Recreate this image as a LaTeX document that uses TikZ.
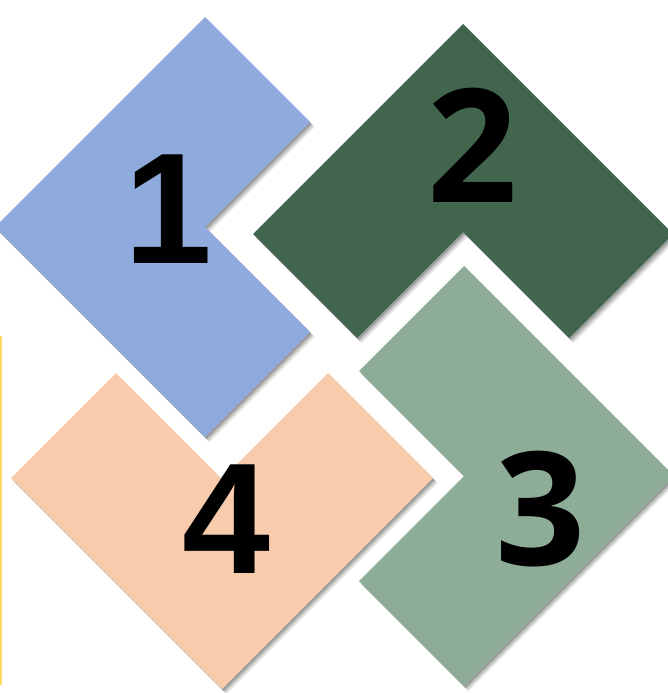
\documentclass[tikz,border=0pt]{standalone}
\usepackage{fontspec}
\newfontfamily\digA{Liberation Sans}
\newfontfamily\digB{Open Sans}
\usetikzlibrary{shadows}
\definecolor{chevblue}{HTML}{8FAADC}
\definecolor{chevpine}{HTML}{42664D}
\definecolor{chevsage}{HTML}{8EAD98}
\definecolor{chevpeach}{HTML}{F8CBAD}
\definecolor{edgegold}{HTML}{FFD966}

\begin{document}
\begin{tikzpicture}[
  x=1pt,y=-1pt,
  chev/.style={drop shadow={shadow xshift=1.5pt,shadow yshift=-2pt,opacity=.2,fill=black},
               drop shadow={shadow xshift=3pt,shadow yshift=-3.5pt,opacity=.15,fill=black},
               drop shadow={shadow xshift=4.5pt,shadow yshift=-5pt,opacity=.1,fill=black}},
  num/.style={anchor=base,inner sep=0pt,font=\fontsize{158}{158}\selectfont\bfseries},
]
\useasboundingbox (0,0) rectangle (667,693);

% ===== thin gold rule at the left edge =====
\draw[edgegold,line width=2pt] (1,336) -- (1,685);

% ===== chevron 1 (points left) =====
\fill[chev,chevblue] (205,17) -- (310,122) -- (205,227) -- (310,332) -- (205,437) -- (-5,227) -- cycle;
% ===== chevron 2 (points up) =====
\fill[chev,chevpine] (463,24) -- (673,234) -- (569,338) -- (463,232) -- (357,338) -- (253,234) -- cycle;
% ===== chevron 3 (points right) =====
\fill[chev,chevsage] (464,266) -- (674,476) -- (464,686) -- (359,581) -- (464,476) -- (359,371) -- cycle;
% ===== chevron 4 (points down) =====
\fill[chev,chevpeach] (116,373) -- (222,479) -- (328,373) -- (433,478) -- (222,689) -- (11,478) -- cycle;

% ===== numbers =====
\node[num] (one)   at (168,263) {\digA 1};
\node[num] (two)   at (473,202) {\digB 2};
\node[num] (three) at (541,565) {\digB 3};
\node[num] (four)  at (226,573) {\digA 4};
\end{tikzpicture}
\end{document}
